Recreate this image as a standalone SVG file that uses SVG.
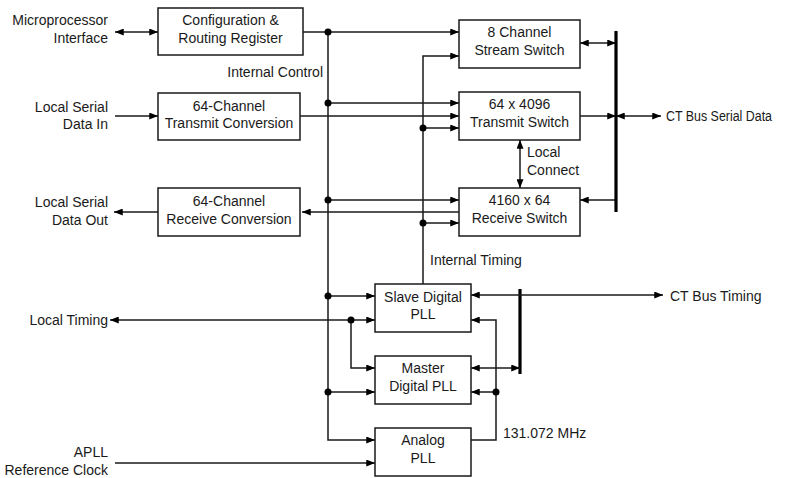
<svg xmlns="http://www.w3.org/2000/svg" width="785" height="478" viewBox="0 0 785 478">
<style>
text{font-family:"Liberation Sans",Arial,sans-serif;font-size:14px;fill:#1a1a1a}
.c{text-anchor:middle}
.r{text-anchor:end}
.box{fill:#fff;stroke:#1a1a1a;stroke-width:1.5}
.w{fill:none;stroke:#1a1a1a;stroke-width:1.5}
.a{marker-end:url(#ah)}
.b{marker-start:url(#ah);marker-end:url(#ah)}
.bus{fill:none;stroke:#000;stroke-width:3.2}
.dot{fill:#000}
</style>
<defs>
<marker id="ah" viewBox="0 0 10 8" refX="10" refY="4" markerWidth="10" markerHeight="7" markerUnits="userSpaceOnUse" orient="auto-start-reverse">
<path d="M0,0 L10,4 L0,8 z" fill="#000"/>
</marker>
</defs>
<rect width="785" height="478" fill="#fff"/>
<g id="connectors">
<path class="w b" d="M115,32 H158"/>
<path class="w a" d="M303,32 H459"/>
<path class="w a" d="M328,32 V440 H375"/>
<path class="w a" d="M328,103 H459"/>
<path class="w a" d="M115,116 H158"/>
<path class="w a" d="M300,116 H459"/>
<path class="w a" d="M423,284 V56 H459"/>
<path class="w a" d="M423,128 H459"/>
<path class="w a" d="M423,223 H459"/>
<path class="w a" d="M328,200 H459"/>
<path class="w a" d="M459,212 H302"/>
<path class="w a" d="M158,212 H114"/>
<path class="w b" d="M580,43 H616"/>
<path class="w a" d="M580,116 H616"/>
<path class="w b" d="M616,116 H661"/>
<path class="w a" d="M616,200 H580"/>
<path class="w b" d="M520,140 V188"/>
<path class="bus" d="M616,31 V212"/>
<path class="w a" d="M328,296 H375"/>
<path class="w b" d="M110,320 H375"/>
<path class="w a" d="M351,320 V368 H375"/>
<path class="w a" d="M328,392 H375"/>
<path class="w a" d="M115,463 H375"/>
<path class="bus" d="M520,289 V374"/>
<path class="w b" d="M471,295 H663"/>
<path class="w b" d="M471,368 H520"/>
<path class="w a" d="M471,440 H496 V320 H471"/>
<path class="w a" d="M496,392 H471"/>
<circle class="dot" cx="328" cy="32" r="3.5"/>
<circle class="dot" cx="328" cy="103" r="3.5"/>
<circle class="dot" cx="328" cy="200" r="3.5"/>
<circle class="dot" cx="328" cy="296" r="3.5"/>
<circle class="dot" cx="328" cy="392" r="3.5"/>
<circle class="dot" cx="423" cy="128" r="3.5"/>
<circle class="dot" cx="423" cy="223" r="3.5"/>
<circle class="dot" cx="351" cy="320" r="3.5"/>
<circle class="dot" cx="496" cy="392" r="3.5"/>
</g>
<g id="config">
<rect class="box" x="158" y="8" width="145" height="47"/>
<text class="c" x="230.5" y="25">Configuration &amp;</text>
<text class="c" x="230.5" y="43">Routing Register</text>
</g>
<g id="txconv">
<rect class="box" x="158" y="93" width="142" height="47"/>
<text class="c" x="229" y="111">64-Channel</text>
<text class="c" x="229" y="128">Transmit Conversion</text>
</g>
<g id="rxconv">
<rect class="box" x="158" y="188" width="142" height="48"/>
<text class="c" x="229" y="206">64-Channel</text>
<text class="c" x="229" y="224">Receive Conversion</text>
</g>
<g id="stream">
<rect class="box" x="459" y="20" width="121" height="48"/>
<text class="c" x="519.5" y="37">8 Channel</text>
<text class="c" x="519.5" y="55">Stream Switch</text>
</g>
<g id="txswitch">
<rect class="box" x="459" y="92" width="121" height="48"/>
<text class="c" x="519.5" y="109">64 x 4096</text>
<text class="c" x="519.5" y="127">Transmit Switch</text>
</g>
<g id="rxswitch">
<rect class="box" x="459" y="188" width="121" height="48"/>
<text class="c" x="519.5" y="205">4160 x 64</text>
<text class="c" x="519.5" y="223">Receive Switch</text>
</g>
<g id="slave">
<rect class="box" x="375" y="284" width="96" height="48"/>
<text class="c" x="423" y="302">Slave Digital</text>
<text class="c" x="423" y="319">PLL</text>
</g>
<g id="master">
<rect class="box" x="375" y="356" width="96" height="48"/>
<text class="c" x="423" y="373">Master</text>
<text class="c" x="423" y="391">Digital PLL</text>
</g>
<g id="analog">
<rect class="box" x="375" y="428" width="96" height="48"/>
<text class="c" x="423" y="445">Analog</text>
<text class="c" x="423" y="463">PLL</text>
</g>
<g id="labels">
<text class="r" x="108" y="25">Microprocessor</text>
<text class="r" x="108" y="43">Interface</text>
<text class="r" x="323" y="77">Internal Control</text>
<text class="r" x="108" y="112">Local Serial</text>
<text class="r" x="108" y="129">Data In</text>
<text class="r" x="108" y="207">Local Serial</text>
<text class="r" x="108" y="225">Data Out</text>
<text x="527" y="157">Local</text>
<text x="527" y="175">Connect</text>
<text x="430" y="265">Internal Timing</text>
<text x="666" y="121" textLength="106" lengthAdjust="spacingAndGlyphs">CT Bus Serial Data</text>
<text x="670" y="301">CT Bus Timing</text>
<text x="503" y="438">131.072 MHz</text>
<text class="r" x="108" y="325">Local Timing</text>
<text class="r" x="108" y="457">APLL</text>
<text class="r" x="108" y="475">Reference Clock</text>
</g>
</svg>
